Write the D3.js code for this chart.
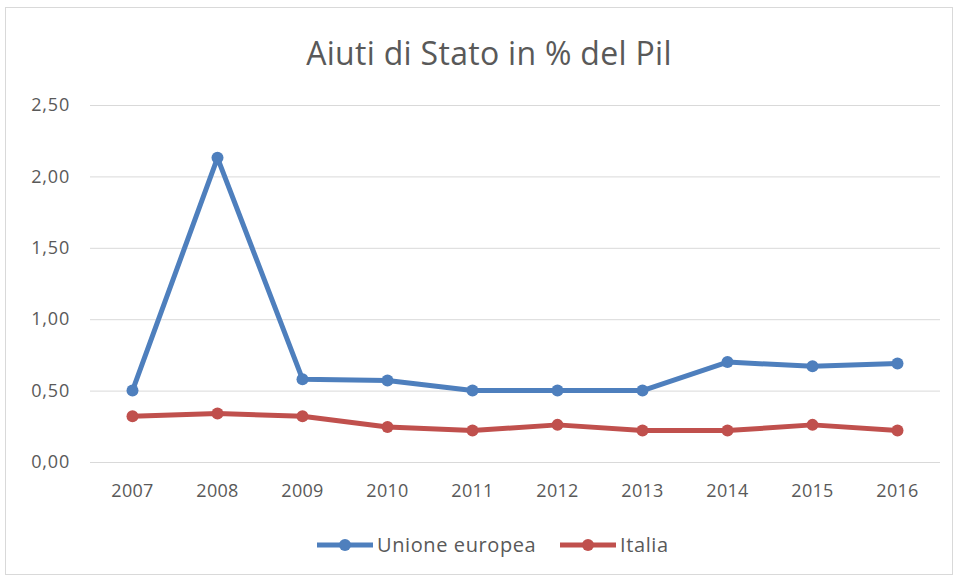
<!DOCTYPE html>
<html>
<head>
<meta charset="utf-8">
<script src="https://cdn.jsdelivr.net/npm/d3@7"></script>
<style>
  body { margin: 0; background: #fff; }
  svg text { font-family: "Open Sans", sans-serif; fill: #595959; }
</style>
</head>
<body>
<script>
// data
const years = ["2007", "2008", "2009", "2010", "2011", "2012", "2013", "2014", "2015", "2016"];
const unioneEuropea = [0.50, 2.13, 0.58, 0.57, 0.50, 0.50, 0.50, 0.70, 0.67, 0.69];
const italia = [0.32, 0.34, 0.32, 0.245, 0.22, 0.26, 0.22, 0.22, 0.26, 0.22];
const yTicks = [0, 0.5, 1, 1.5, 2, 2.5];
const seriesNames = ["Unione europea", "Italia"];
const colors = ["#4e7fbd", "#c0504d"];

const width = 958, height = 579;
const margin = {top: 105, right: 18, bottom: 117, left: 90};

const svg = d3.select("body").append("svg")
    .attr("width", width)
    .attr("height", height);

// outer chart frame
svg.append("rect")
    .attr("x", 5.5).attr("y", 7.5)
    .attr("width", 947).attr("height", 567)
    .attr("fill", "#fff")
    .attr("stroke", "#d9d9d9");

svg.append("text")
    .attr("x", 489).attr("y", 65)
    .attr("text-anchor", "middle")
    .style("font-size", "32px")
    .style("letter-spacing", "0.3px")
    .text("Aiuti di Stato in % del Pil");

const x = d3.scaleBand()
    .domain(years)
    .range([margin.left, width - margin.right]);

const y = d3.scaleLinear()
    .domain([0, 2.5])
    .range([height - margin.bottom, margin.top]);

// gridlines + y labels
const yAxis = svg.append("g")
    .attr("transform", `translate(${margin.left},0)`)
    .call(d3.axisLeft(y)
        .tickValues(yTicks)
        .tickSize(-(width - margin.left - margin.right))
        .tickPadding(20)
        .tickFormat(d => d3.format(".2f")(d).replace(".", ",")));
yAxis.select(".domain").remove();
yAxis.selectAll("line").attr("stroke", "#d9d9d9");
yAxis.selectAll("text").style("font-size", "18px").style("letter-spacing", "0.8px").attr("fill", "#595959");

// x labels
const xAxis = svg.append("g")
    .attr("transform", `translate(0,${height - margin.bottom})`)
    .call(d3.axisBottom(x).tickSize(0).tickPadding(22));
xAxis.select(".domain").remove();
xAxis.selectAll("text").style("font-size", "18px").style("letter-spacing", "0.3px").attr("fill", "#595959");

const line = d3.line()
    .x((d, i) => x(years[i]) + x.bandwidth() / 2)
    .y(d => y(d));

[unioneEuropea, italia].forEach((vals, k) => {
    svg.append("path")
        .datum(vals)
        .attr("fill", "none")
        .attr("stroke", colors[k])
        .attr("stroke-width", 5)
        .attr("stroke-linejoin", "round")
        .attr("d", line);
    svg.append("g").selectAll("circle")
        .data(vals)
        .join("circle")
        .attr("cx", (d, i) => x(years[i]) + x.bandwidth() / 2)
        .attr("cy", d => y(d))
        .attr("r", 6)
        .attr("fill", colors[k]);
});

// legend
const legendX = [317, 560];
seriesNames.forEach((name, k) => {
    const g = svg.append("g").attr("transform", `translate(${legendX[k]},545)`);
    g.append("line")
        .attr("x1", 0).attr("x2", 56)
        .attr("stroke", colors[k]).attr("stroke-width", 5);
    g.append("circle").attr("cx", 28).attr("r", 6).attr("fill", colors[k]);
    g.append("text")
        .attr("x", 60).attr("dy", "0.35em")
        .style("font-size", "20px")
        .style("letter-spacing", "0.6px")
        .text(name);
});
</script>
</body>
</html>
